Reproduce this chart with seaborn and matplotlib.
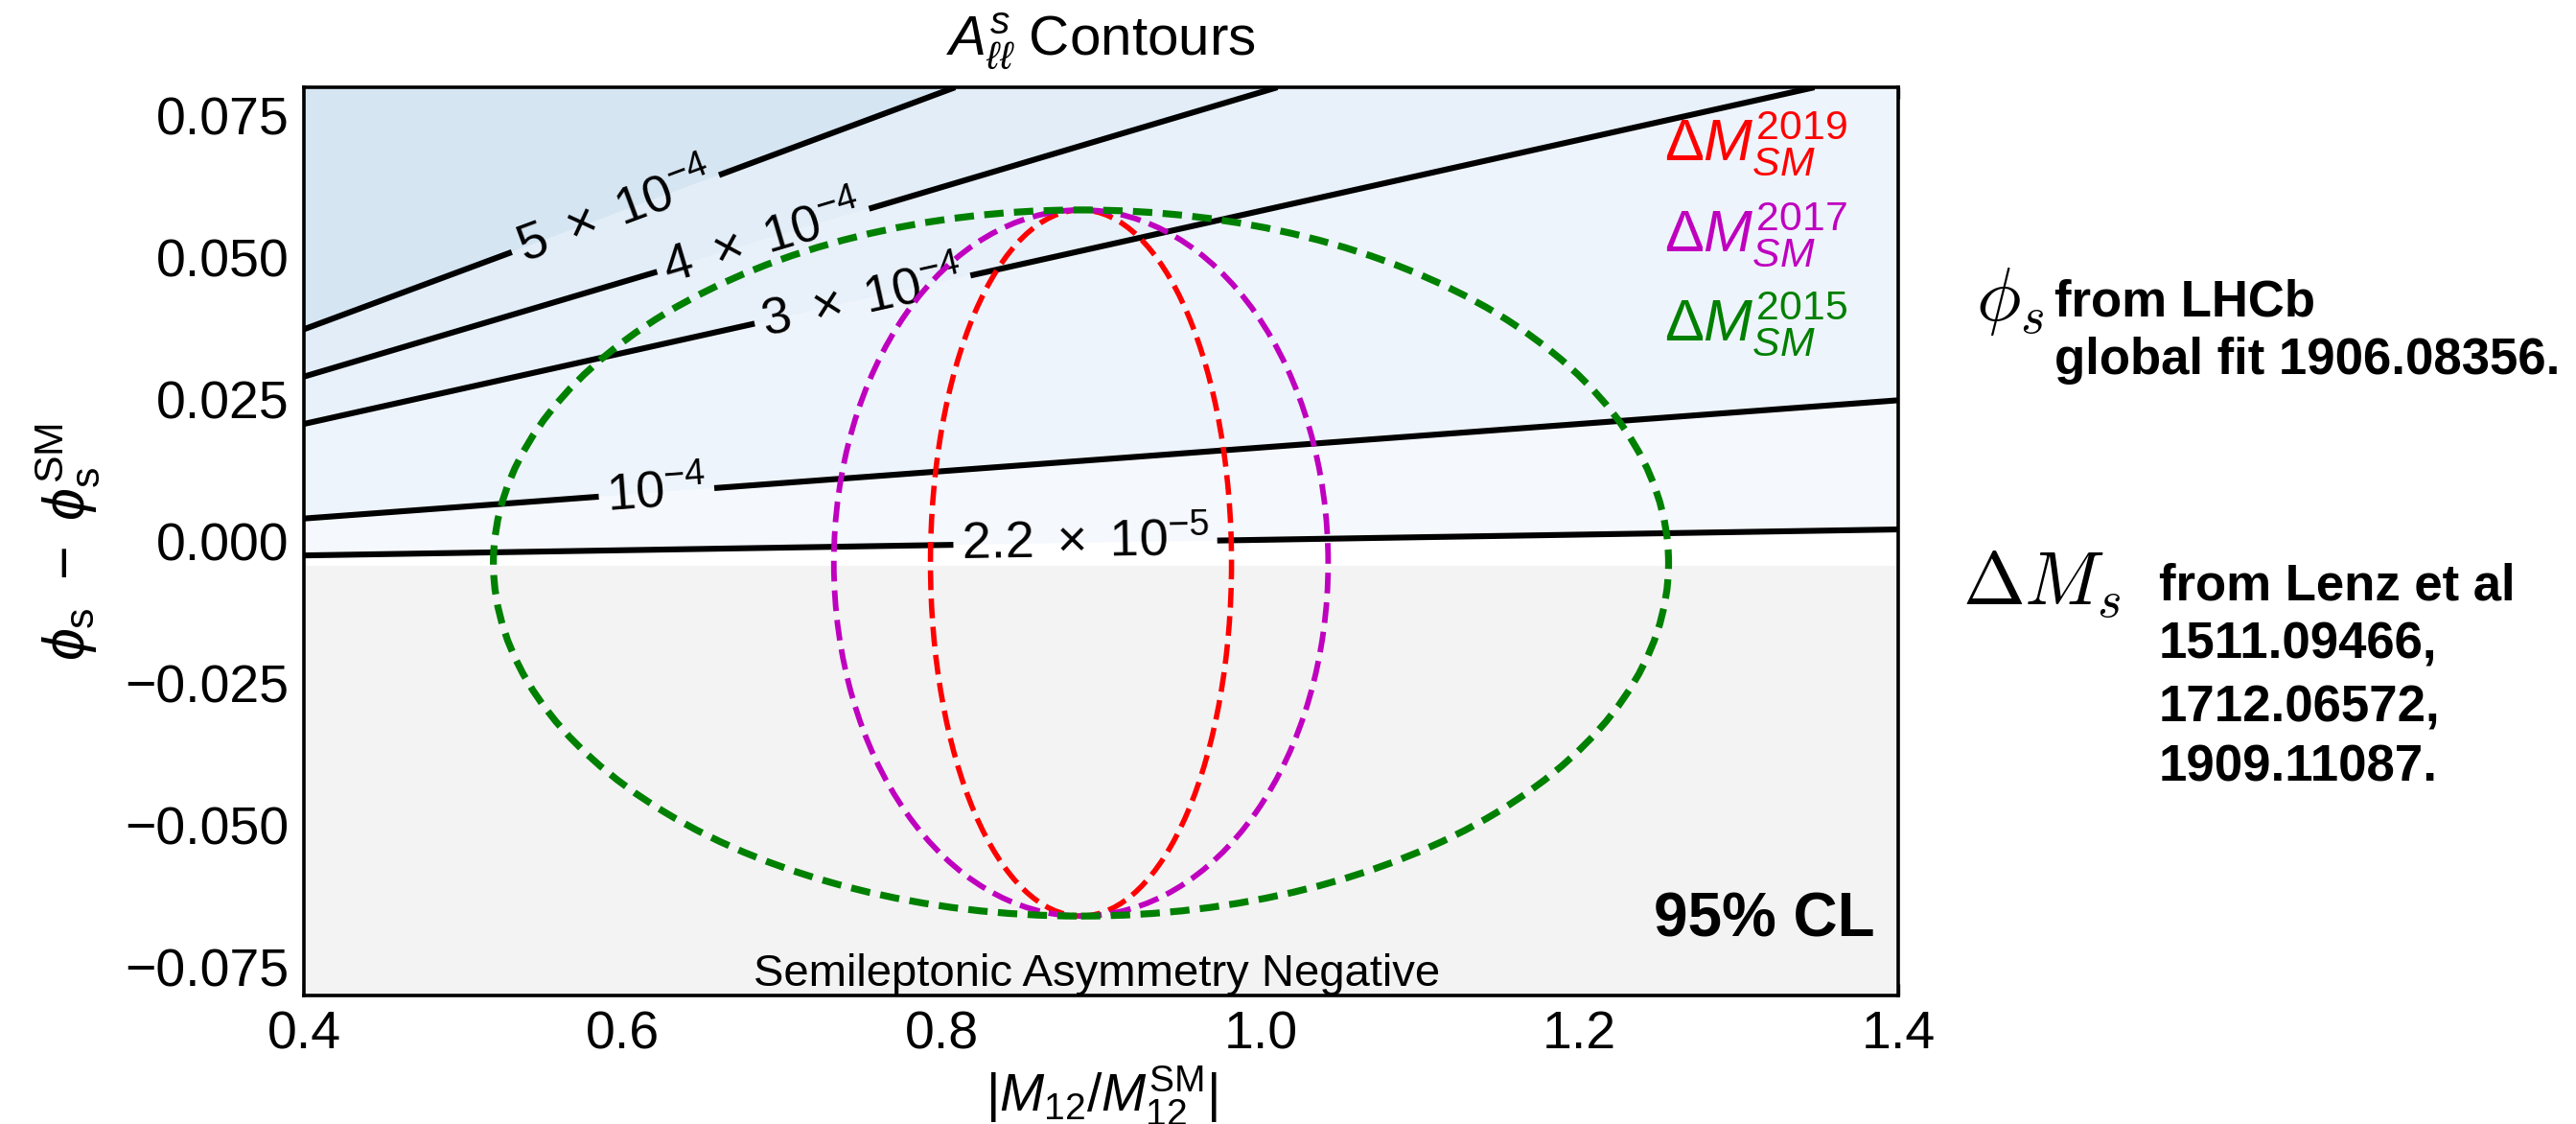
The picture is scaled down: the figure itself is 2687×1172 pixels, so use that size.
import numpy as np
import matplotlib
matplotlib.use("Agg")
import matplotlib.pyplot as plt
from matplotlib.patches import Ellipse
import seaborn as sns

# ---- plane of |M12/M12^SM| versus phi_s - phi_s^SM ----
X_RANGE = [0.4, 1.4]
Y_RANGE = [-0.08, 0.08]
X_TICKS = [0.4, 0.6, 0.8, 1.0, 1.2, 1.4]
Y_TICKS = [-0.075, -0.050, -0.025, 0.0, 0.025, 0.050, 0.075]

# a_sl^s = |Gamma12/M12^SM| / |M12/M12^SM| * sin(phi12^SM + delta phi_s)
GAMMA12_OVER_M12_SM = 4.8e-3
PHI12_SM = 4.3e-3

# contour levels of A_ll^s and their labels
CONTOUR_LEVELS = [2.2e-5, 1e-4, 3e-4, 4e-4, 5e-4]
CONTOUR_TEXT = [r"$2.2\ \times\ 10^{-5}$", r"$10^{-4}$", r"$3\ \times\ 10^{-4}$",
                r"$4\ \times\ 10^{-4}$", r"$5\ \times\ 10^{-4}$"]
LABEL_X = [0.89, 0.621, 0.750, 0.688, 0.595]
LABEL_Y = [0.000, 0.009, 0.043, 0.053, 0.058]
BAND_COLORS = ["#ffffff", "#f5f8fd", "#eef4fb", "#e8f0f9", "#e2edf7", "#d5e5f2"]
NEGATIVE_COLOR = "#f3f3f3"

# 95% CL regions for the three Delta M_s^SM determinations
REGION_YEARS = ["2019", "2017", "2015"]
REGION_COLORS = ["#ff0000", "#bf00bf", "#008000"]
REGION_X_CENTER = [0.8873, 0.8873, 0.8873]
REGION_X_HALF = [0.0944, 0.1550, 0.3685]
REGION_Y_CENTER = [-0.0038, -0.0038, -0.0038]
REGION_Y_HALF = [0.0622, 0.0622, 0.0622]

sns.set_theme(style="ticks")
plt.rcParams.update({
    "font.family": ["Liberation Sans", "DejaVu Sans"],
    "mathtext.fontset": "custom",
    "mathtext.rm": "Liberation Sans",
    "mathtext.it": "Liberation Sans:italic",
    "mathtext.bf": "Liberation Sans:bold",
    "mathtext.sf": "Liberation Sans",
    "mathtext.fallback": "stixsans",
    "axes.linewidth": 1.3,
    "axes.edgecolor": "black",
    "text.color": "black",
    "axes.labelcolor": "black",
    "xtick.color": "black",
    "ytick.color": "black",
})

fig = plt.figure(figsize=(2687 / 200, 1172 / 200), dpi=200)
ax = fig.add_axes([0.118, 0.1143, 0.619, 0.808])

# asymmetry field on a grid
gx = np.linspace(X_RANGE[0], X_RANGE[1], 600)
gy = np.linspace(Y_RANGE[0], Y_RANGE[1], 600)
GX, GY = np.meshgrid(gx, gy)
ASL = GAMMA12_OVER_M12_SM / GX * np.sin(PHI12_SM + GY)

fill_levels = [0.0] + CONTOUR_LEVELS + [1.0]
ax.contourf(GX, GY, ASL, levels=fill_levels, colors=BAND_COLORS, antialiased=True)
ax.contourf(GX, GY, ASL, levels=[-1.0, 0.0], colors=[NEGATIVE_COLOR], antialiased=True)
cs = ax.contour(GX, GY, ASL, levels=CONTOUR_LEVELS, colors="black", linewidths=2.2)
ax.clabel(cs, levels=CONTOUR_LEVELS, inline=True, inline_spacing=8, fontsize=19.5,
          fmt=dict(zip(CONTOUR_LEVELS, CONTOUR_TEXT)),
          manual=list(zip(LABEL_X, LABEL_Y)))

# confidence-level ellipses
region_styles = {"2019": (2.0, (3.7, 1.6)), "2017": (2.1, (3.7, 1.6)), "2015": (2.6, (2.8, 1.5))}
for year, color, xc, xh, yc, yh in zip(REGION_YEARS, REGION_COLORS, REGION_X_CENTER,
                                       REGION_X_HALF, REGION_Y_CENTER, REGION_Y_HALF):
    lw, dash = region_styles[year]
    ax.add_patch(Ellipse((xc, yc), 2 * xh, 2 * yh, fill=False, edgecolor=color,
                         linewidth=lw, linestyle=(0, dash), zorder=5))

# legend-like labels inside the axes
label_y = {"2019": 0.9197, "2017": 0.819, "2015": 0.721}
for year, color in zip(REGION_YEARS, REGION_COLORS):
    ax.text(0.968, label_y[year], r"$\Delta M_{SM}^{%s}$" % year, color=color,
            fontsize=22, ha="right", va="baseline", transform=ax.transAxes, zorder=6)

ax.text(0.985, 0.083, "95% CL", fontsize=23, fontweight="bold", ha="right",
        va="center", transform=ax.transAxes, zorder=6)
ax.text(0.497, 0.011, "Semileptonic Asymmetry Negative", fontsize=17, ha="center",
        va="baseline", transform=ax.transAxes, zorder=6)

ax.set_xlim(*X_RANGE)
ax.set_ylim(*Y_RANGE)
ax.set_xticks(X_TICKS)
ax.set_yticks(Y_TICKS)
ax.tick_params(direction="in", top=True, right=False, length=4.2, width=1.2,
               labelsize=20, pad=5.5, colors="black")
ax.minorticks_off()
for side in ax.spines.values():
    side.set_visible(True)
    side.set_linewidth(1.3)
    side.set_color("black")

ax.set_xlabel(r"$|M_{12}/M_{12}^{\rm SM}|$", fontsize=20, labelpad=1.5)
ax.set_ylabel(r"$\phi_{\rm s}\ -\ \phi_{\rm s}^{\rm SM}$", fontsize=22, labelpad=9)
ax.set_title(r"$A_{\ell\ell}^{s}$ Contours", fontsize=21, pad=12)

# sources of the inputs
fig.text(0.767, 0.715, r"$\phi_s$", fontsize=28, math_fontfamily="cm", va="baseline")
fig.text(0.7975, 0.719, "from LHCb", fontsize=19, fontweight="bold", va="baseline")
fig.text(0.7975, 0.667, "global fit 1906.08356.", fontsize=19, fontweight="bold", va="baseline")

fig.text(0.762, 0.462, r"$\Delta M_s$", fontsize=28, math_fontfamily="cm", va="baseline")
source_lines = ["from Lenz et al", "1511.09466,", "1712.06572,", "1909.11087."]
source_y = [0.466, 0.414, 0.358, 0.305]
for line, yy in zip(source_lines, source_y):
    fig.text(0.838, yy, line, fontsize=19, fontweight="bold", va="baseline")

fig.savefig("out.png", dpi=200)
